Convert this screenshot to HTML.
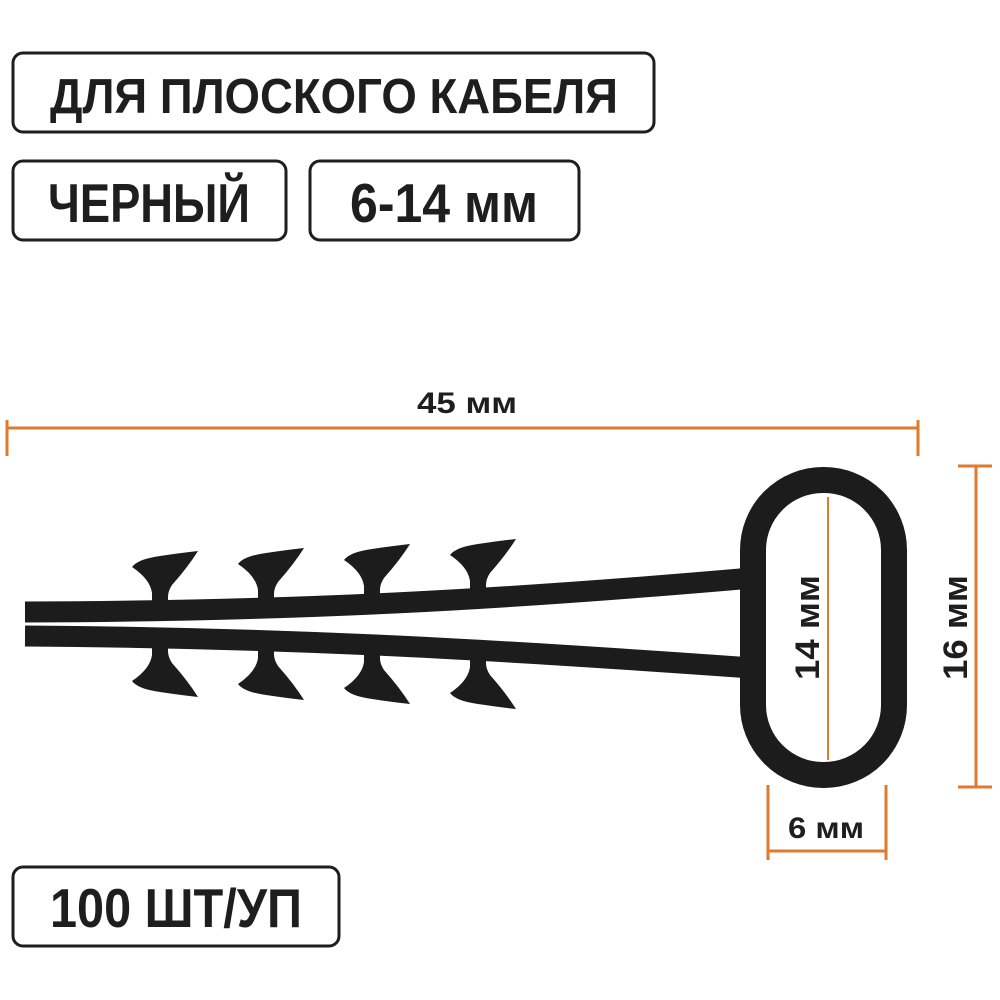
<!DOCTYPE html>
<html><head><meta charset="utf-8"><style>html,body{margin:0;padding:0;background:#fff}svg{display:block}</style></head>
<body>
<svg width="1000" height="1000" viewBox="0 0 1000 1000" xmlns="http://www.w3.org/2000/svg">
<defs>
<path id="t" d="M-8,6 L-8,-10 Q-10,-24 -28,-36 Q-22,-44 0,-47 Q20,-50 38,-52 Q28,-36 12,-18 Q8,-12 8,-6 L8,6 Z"/>
</defs>
<g fill="none" stroke="#1e1e1e" stroke-width="3">
<rect x="13" y="53" width="641" height="79" rx="10"/>
<rect x="13" y="161" width="273" height="79" rx="10"/>
<rect x="310" y="161" width="269" height="79" rx="10"/>
<rect x="13" y="867" width="326" height="79" rx="10"/>
</g>
<g font-family="Liberation Sans, sans-serif" font-weight="bold" fill="#1e1e1e">
<text x="50" y="113" font-size="49" textLength="568" lengthAdjust="spacingAndGlyphs">ДЛЯ ПЛОСКОГО КАБЕЛЯ</text>
<text x="48" y="222" font-size="55" textLength="202" lengthAdjust="spacingAndGlyphs">ЧЕРНЫЙ</text>
<text x="350" y="222" font-size="55" textLength="188" lengthAdjust="spacingAndGlyphs">6-14 мм</text>
<text x="50" y="927" font-size="55" textLength="252" lengthAdjust="spacingAndGlyphs">100 ШТ/УП</text>
<text x="417" y="413" font-size="30" textLength="100" lengthAdjust="spacingAndGlyphs">45 мм</text>
<text x="788" y="838" font-size="30" textLength="76" lengthAdjust="spacingAndGlyphs">6 мм</text>
<text transform="translate(819,680) rotate(-90)" font-size="34" textLength="105" lengthAdjust="spacingAndGlyphs">14 мм</text>
<text transform="translate(967,680) rotate(-90)" font-size="34" textLength="105" lengthAdjust="spacingAndGlyphs">16 мм</text>
</g>
<g stroke="#e07a2e" stroke-width="3" fill="none">
<line x1="7" y1="428" x2="918" y2="428"/>
<line x1="7" y1="420" x2="7" y2="456"/>
<line x1="918" y1="420" x2="918" y2="456"/>
<line x1="976" y1="466" x2="976" y2="787"/>
<line x1="958" y1="466" x2="992" y2="466"/>
<line x1="958" y1="787" x2="992" y2="787"/>
<line x1="768" y1="785" x2="768" y2="860"/>
<line x1="886" y1="785" x2="886" y2="860"/>
<line x1="768" y1="851" x2="886" y2="851"/>
</g>
<g fill="#1c1c1c">
<use href="#t" transform="translate(160,603)"/>
<use href="#t" transform="translate(266,600)"/>
<use href="#t" transform="translate(372,596)"/>
<use href="#t" transform="translate(478,591)"/>
<use href="#t" transform="translate(160,645) scale(1,-1)"/>
<use href="#t" transform="translate(266,648) scale(1,-1)"/>
<use href="#t" transform="translate(372,652) scale(1,-1)"/>
<use href="#t" transform="translate(478,657) scale(1,-1)"/>
</g>
<g fill="none" stroke="#1c1c1c">
<path d="M25,612 C300,611 500,600 752,578" stroke-width="21"/>
<path d="M25,636 C300,638 500,650 752,668" stroke-width="21"/>
<rect x="753" y="480" width="141" height="295" rx="70" stroke-width="26"/>
</g>
<rect x="827" y="497" width="2" height="263" fill="#e07a2e"/>
</svg>
</body></html>
